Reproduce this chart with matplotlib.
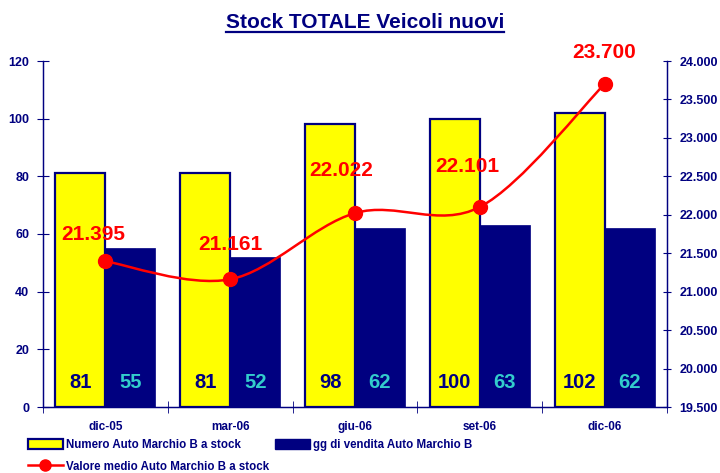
import matplotlib.pyplot as plt
from matplotlib.path import Path
from matplotlib.patches import PathPatch, Patch
from matplotlib.lines import Line2D
from matplotlib.ticker import FuncFormatter, FixedLocator
import matplotlib.transforms as mtransforms

plt.rcParams['font.family'] = ['Liberation Sans', 'DejaVu Sans']
plt.rcParams['font.weight'] = 'bold'

periods = ['dic-05', 'mar-06', 'giu-06', 'set-06', 'dic-06']
stock_count = [81, 81, 98, 100, 102]      # Numero Auto Marchio B a stock
days_to_sell = [55, 52, 62, 63, 62]       # gg di vendita Auto Marchio B
avg_value = [21395, 21161, 22022, 22101, 23700]  # Valore medio

navy = '#000080'
yellow = '#FFFF00'
red = '#FF0000'
teal = '#33CCCC'

fig = plt.figure(figsize=(7.2, 4.73), dpi=100)
ax = fig.add_axes([43 / 720, 1 - 407 / 473, 624 / 720, 346 / 473])
ax2 = ax.twinx()

x = list(range(len(periods)))
w = 0.4
ax.bar([i - w / 2 for i in x], stock_count, width=w, color=yellow,
       edgecolor=navy, linewidth=1.6, zorder=2)
ax.bar([i + w / 2 for i in x], days_to_sell, width=w, color=navy,
       edgecolor=navy, linewidth=0.5, zorder=2)

# value labels at bottom of bars
trans = mtransforms.blended_transform_factory(ax.transData, ax.transAxes)
for i in x:
    ax.text(i - w / 2, 0.072, str(stock_count[i]), transform=trans, ha='center',
            va='center', color=navy, fontsize=14.5, fontweight='bold', zorder=3)
    ax.text(i + w / 2, 0.072, str(days_to_sell[i]), transform=trans, ha='center',
            va='center', color=teal, fontsize=14.5, fontweight='bold', zorder=3)

ax.set_xlim(-0.5, len(periods) - 0.5)
ax.set_ylim(0, 120)
ax.set_yticks(range(0, 121, 20))
ax.set_xticks(x)
ax.set_xticklabels(periods)
ax.xaxis.set_minor_locator(FixedLocator([i - 0.5 for i in range(len(periods) + 1)]))
ax.tick_params(axis='x', which='major', length=0, pad=10, colors=navy, labelsize=8.5)
ax.tick_params(axis='x', which='minor', direction='inout', length=8, color=navy)
ax.tick_params(axis='y', direction='inout', length=8, color=navy, labelcolor=navy,
               labelsize=9, pad=6)

# smoothed line on secondary axis (Bezier through the data points)
ax2.set_ylim(19500, 24000)
pts = list(zip(x, avg_value))
n = len(pts)
verts = [pts[0]]
codes = [Path.MOVETO]
for i in range(n - 1):
    p0 = pts[max(i - 1, 0)]
    p1 = pts[i]
    p2 = pts[i + 1]
    p3 = pts[min(i + 2, n - 1)]
    c1 = (p1[0] + (p2[0] - p0[0]) / 6, p1[1] + (p2[1] - p0[1]) / 6)
    c2 = (p2[0] - (p3[0] - p1[0]) / 6, p2[1] - (p3[1] - p1[1]) / 6)
    verts += [c1, c2, p2]
    codes += [Path.CURVE4] * 3
ax2.add_patch(PathPatch(Path(verts, codes), facecolor='none', edgecolor=red,
                        linewidth=1.8, zorder=4))
ax2.plot(x, avg_value, linestyle='none', marker='o', markersize=10,
         color=red, zorder=5)

label_offsets = [(-9, 19), (0, 25), (-10, 31), (-9, 29), (0, 23)]
for i in x:
    ax2.annotate(f"{avg_value[i]:,}".replace(',', '.'), (i, avg_value[i]),
                 xytext=label_offsets[i], textcoords='offset points',
                 ha='center', va='center', color=red, fontsize=15,
                 fontweight='bold', zorder=6)

ax2.set_yticks(range(19500, 24001, 500))
ax2.yaxis.set_major_formatter(FuncFormatter(lambda v, p: f"{v:,.0f}".replace(',', '.')))
ax2.tick_params(axis='y', direction='inout', length=6, color=navy, labelcolor=navy,
                labelsize=9, pad=6)

for a in (ax, ax2):
    a.spines['top'].set_visible(False)
    for s in ('left', 'right', 'bottom'):
        a.spines[s].set_color(navy)
        a.spines[s].set_linewidth(0.9)
ax2.set_zorder(ax.get_zorder() + 1)
ax2.patch.set_visible(False)

# title with underline
title = fig.text(0.507, 1 - 22 / 473, 'Stock TOTALE Veicoli nuovi', ha='center',
                 va='center', color=navy, fontsize=15, fontweight='bold')
fig.canvas.draw()
bb = title.get_window_extent().transformed(fig.transFigure.inverted())
fig.add_artist(Line2D([bb.x0, bb.x1], [bb.y0 - 0.002, bb.y0 - 0.002],
                      transform=fig.transFigure, color=navy, linewidth=1.6))

handles = [Patch(facecolor=yellow, edgecolor=navy, linewidth=1.6),
           Line2D([], [], color=red, linewidth=1.8, marker='o', markersize=8),
           Patch(facecolor=navy, edgecolor=navy)]
labels = ['Numero Auto Marchio B a stock', 'Valore medio Auto Marchio B a stock',
          'gg di vendita Auto Marchio B']
leg = fig.legend(handles, labels, ncol=2, loc='upper left',
                 bbox_to_anchor=(28 / 720, 1 - 439 / 473), frameon=False,
                 fontsize=8.3, handlelength=3.0, handleheight=0.9,
                 handletextpad=0.3, columnspacing=0.5, labelspacing=0.85,
                 borderpad=0, borderaxespad=0)
for t in leg.get_texts():
    t.set_color(navy)
    t.set_fontweight('bold')

fig.savefig('out.png', dpi=100)
